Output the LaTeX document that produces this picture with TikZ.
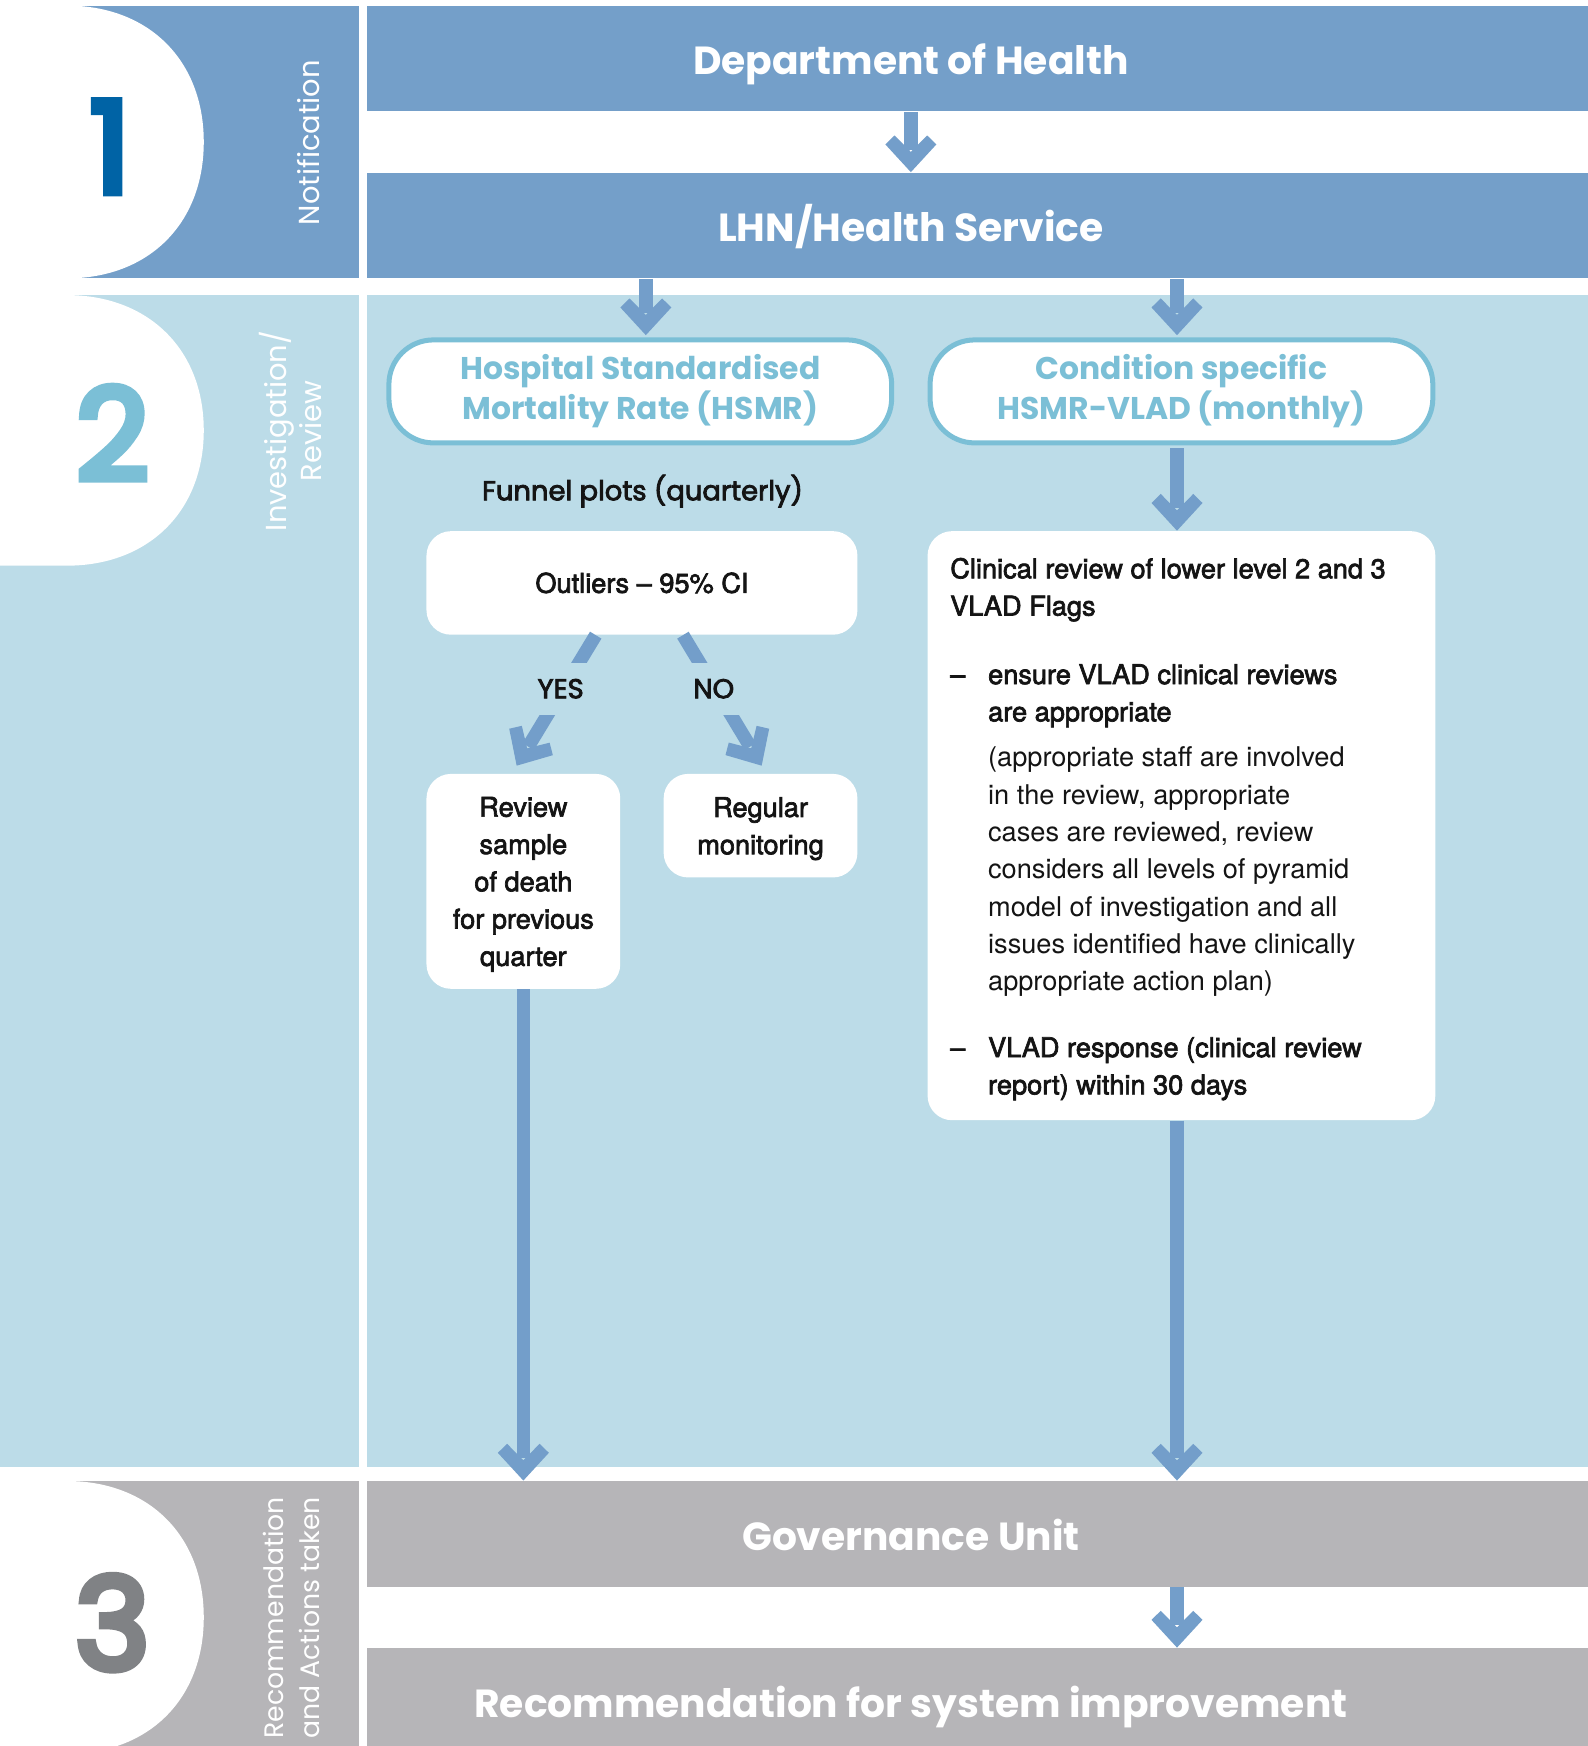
\documentclass[tikz,border=0pt]{standalone}
\usepackage{fontspec}
\usetikzlibrary{arrows.meta}
\setmainfont{TeX Gyre Heros}
\newfontfamily\headfont{Poppins}
\newfontfamily\labelfont{Poppins}[FakeBold=3]
\newfontfamily\numfont{Poppins}[FakeBold=6]
\newfontfamily\bodyfont{TeX Gyre Heros}
\newfontfamily\bodymedfont{TeX Gyre Heros}[FakeBold=2.5]

\definecolor{bandblue}{RGB}{116,159,201}
\definecolor{flowblue}{RGB}{115,158,202}
\definecolor{bandlight}{RGB}{188,220,232}
\definecolor{hsmrteal}{RGB}{123,191,214}
\definecolor{deepblue}{RGB}{0,99,165}
\definecolor{bandgrey}{RGB}{182,181,184}
\definecolor{numgrey}{RGB}{128,130,133}
\definecolor{inkblack}{RGB}{20,20,20}

% thick filled chevron used as the head of every flow arrow
\pgfdeclarearrow{
  name = Chevron,
  setup code = {
    \pgfarrowssettipend{0pt}
    \pgfarrowssetlineend{-10pt}
    \pgfarrowssetbackend{-16.5pt}
    \pgfarrowshullpoint{0pt}{0pt}
    \pgfarrowsupperhullpoint{-16.5pt}{11.5pt}
  },
  drawing code = {
    \pgfpathmoveto{\pgfpointorigin}
    \pgfpathlineto{\pgfqpoint{-12.45pt}{11.45pt}}
    \pgfpathlineto{\pgfqpoint{-16.5pt}{7.3pt}}
    \pgfpathlineto{\pgfqpoint{-9.1pt}{0pt}}
    \pgfpathlineto{\pgfqpoint{-16.5pt}{-7.3pt}}
    \pgfpathlineto{\pgfqpoint{-12.45pt}{-11.45pt}}
    \pgfpathclose
    \pgfusepathqfill
  },
}

\tikzset{
  every node/.style={inner sep=0pt},
  barnode/.style={minimum width=548pt, minimum height=47.5pt, fill=#1},
  bartitle/.style={text=white, font=\headfont\bfseries\fontsize{17.6}{22}\selectfont,
    text height=12.3pt, text depth=0pt},
  numeral/.style={font=\numfont\fontsize{57}{57}\selectfont, text height=40pt, text depth=0pt},
  sidelabel/.style={rotate=90, text=white, align=center, font=\headfont\fontsize{13}{16}\selectfont},
  hsmrbox/.style={draw=hsmrteal, line width=2.25pt, fill=white, rounded corners=20pt,
    minimum width=225.75pt, minimum height=46.25pt, align=center, text=hsmrteal,
    font=\headfont\bfseries\fontsize{14.1}{18}\selectfont},
  whitebox/.style={fill=white, rounded corners=11pt, align=center, text=inkblack,
    font=\bodymedfont\fontsize{12.2}{16.75}\selectfont},
  bodytext/.style={anchor=base west, text=inkblack, font=\bodymedfont\fontsize{12.2}{16.75}\selectfont},
  shaft/.style={draw=flowblue, line width=6pt},
  flow/.style={shaft, -{Chevron}},
  decision/.style={fill=bandlight, minimum width=35pt, minimum height=23.5pt, text=inkblack,
    font=\labelfont\fontsize{12.3}{14}\selectfont},
}

\begin{document}
\begin{tikzpicture}[x=0.5pt,y=-0.5pt]
\useasboundingbox (0,0) rectangle (1426,1568);
\clip (0,0) rectangle (1426,1568);
\fill[white] (0,0) rectangle (1426,1568);

% ---------- stage 1: notification ----------
\fill[bandblue] (0,5) rectangle (322,250);
\fill[white] (0,5) -- (60,5) .. controls (133.5,5) and (183,54) .. (183,127.5)
  .. controls (183,201) and (133.5,250) .. (60,250) -- (0,250) -- cycle;
\node[numeral, text=deepblue] (num1) at (99,133) {1};
\node[sidelabel] (stage1) at (277,128) {Notification};

\node[barnode=bandblue] (deptbar) at (878,52.5) {};
\node[barnode=bandblue] (lhnbar) at (878,202.5) {};
\node[bartitle] (dept) at (818,55) {Department of Health};
\node[bartitle] (lhn) at (818,205) {LHN/Health Service};

% ---------- stage 2: investigation / review ----------
\fill[bandlight] (0,265) rectangle (322,1317);
\fill[white] (0,265) -- (60,265) .. controls (133,265) and (183,313.5) .. (183,386.5)
  .. controls (183,459.5) and (133,508) .. (60,508) -- (0,508) -- cycle;
\node[numeral, text=hsmrteal] (num2) at (101,391) {2};
\node[sidelabel] (stage2) at (261,387) {Investigation/\\Review};
\fill[bandlight] (330,265) rectangle (1426,1317);

\node[hsmrbox] (hsmr) at (575,351.5) {Hospital Standardised\\Mortality Rate (HSMR)};
\node[hsmrbox] (cond) at (1061,351.5) {Condition specific\\HSMR-VLAD (monthly)};
\node[text=inkblack, font=\labelfont\fontsize{12.3}{14}\selectfont] (funnel) at (577,441) {Funnel plots (quarterly)};
\node[whitebox, minimum width=193.5pt, minimum height=46.5pt] (outl) at (576.5,523.5) {Outliers – 95\% CI};
\node[whitebox, minimum width=87pt, minimum height=96.5pt, text depth=0pt] (rev) at (470,791.5)
  {Review\\sample\\of death\\for previous\\quarter};
\node[whitebox, minimum width=87pt, minimum height=46.5pt, text depth=0pt] (reg) at (683,741.5) {Regular\\monitoring};
\node[whitebox, minimum width=228pt, minimum height=264.5pt] (clin) at (1061,741.5) {};

\node[bodytext] (clinhead) at (853,519.3)
  {\parbox[t]{220pt}{Clinical review of lower level 2 and 3\\VLAD Flags}};
\node[bodytext] (dash1) at (853,614.3) {–};
\node[bodytext] (item1) at (887,614.3)
  {\parbox[t]{200pt}{ensure VLAD clinical reviews\\are appropriate\\[3.75pt]%
   {\bodyfont (appropriate staff are involved\\in the review, appropriate\\cases are reviewed, review\\%
   considers all levels of pyramid\\model of investigation and all\\issues identified have clinically\\%
   appropriate action plan)}}};
\node[bodytext] (dash2) at (853,949.3) {–};
\node[bodytext] (item2) at (887,949.3)
  {\parbox[t]{200pt}{VLAD response (clinical review\\report) within 30 days}};

% ---------- stage 3: recommendation and actions ----------
\fill[bandgrey] (0,1330) rectangle (322,1568);
\fill[white] (0,1330) -- (60,1330) .. controls (133.5,1330) and (183,1379) .. (183,1452.5)
  .. controls (183,1526) and (133.5,1575) .. (60,1575) -- (0,1575) -- cycle;
\node[numeral, text=numgrey] (num3) at (101,1459) {3};
\node[sidelabel, font=\headfont\fontsize{12}{16}\selectfont] (stage3) at (262,1453) {Recommendation\\and Actions taken};

\node[barnode=bandgrey] (govbar) at (878,1377.5) {};
\node[barnode=bandgrey] (recbar) at (878,1527.5) {};
\node[bartitle] (gov) at (818,1380) {Governance Unit};
\node[bartitle] (rec) at (818,1530) {Recommendation for system improvement};

% ---------- flow arrows ----------
\coordinate (lcol) at ([xshift=2.5pt,yshift=1pt]hsmr.north);
\coordinate (rcol) at ([xshift=-2pt,yshift=1pt]cond.north);
\draw[flow] (dept |- deptbar.south) -- (dept |- lhnbar.north);
\draw[flow] (lhnbar.south -| lcol) -- (lcol);
\draw[flow] (lhnbar.south -| rcol) -- (rcol);
\draw[flow] ([yshift=-1.2pt]rcol |- cond.south) -- (rcol |- clin.north);
\draw[flow] ([xshift=-20.75pt]outl.south) -- ([xshift=-3pt,yshift=3.5pt]rev.north);
\draw[flow] ([xshift=18.4pt]outl.south) -- ([xshift=0.5pt,yshift=3.5pt]reg.north);
\node[decision] (yes) at (503.5,618.5) {YES};
\node[decision] (no) at (641,618.5) {NO};
\draw[flow] (rev.south) -- (rev.south |- govbar.north);
\draw[flow] (rcol |- clin.south) -- (rcol |- govbar.north);
\draw[flow] (govbar.south -| rcol) -- (recbar.north -| rcol);
\end{tikzpicture}
\end{document}
